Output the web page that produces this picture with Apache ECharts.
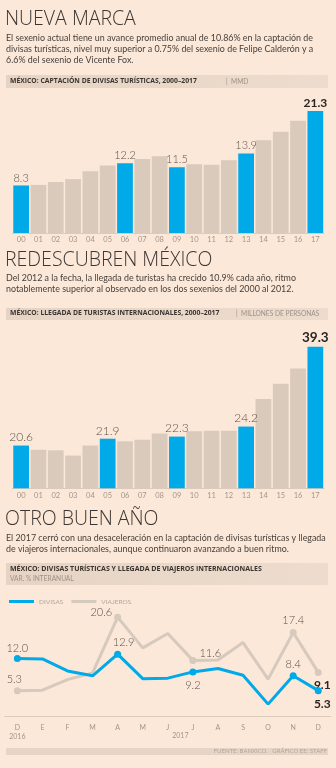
<!DOCTYPE html>
<html>
<head>
<meta charset="utf-8">
<script src="https://cdn.jsdelivr.net/npm/echarts@6/dist/echarts.min.js"></script>
<style>
  html, body { margin: 0; padding: 0; background: #fce8d8; }
  #chart { width: 336px; height: 768px; }
</style>
</head>
<body>
<div id="chart"></div>
<script>
// Annual series 2000-2017
const years = ['00','01','02','03','04','05','06','07','08','09','10','11','12','13','14','15','16','17'];
// Foreign currency from tourism, billions of USD
const divisasAnual = [8.3, 8.4, 8.9, 9.4, 10.8, 11.8, 12.2, 12.9, 13.4, 11.5, 12.0, 11.9, 12.7, 13.9, 16.2, 17.7, 19.6, 21.3];
// International tourist arrivals, millions of people
const turistasAnual = [20.6, 19.8, 19.7, 18.7, 20.6, 21.9, 21.4, 21.7, 22.9, 22.3, 23.3, 23.4, 23.4, 24.2, 29.4, 32.3, 35.2, 39.3];
// Years that close/open each six-year term (highlighted and labelled)
const marcados1 = [0, 6, 9, 13, 17];
const marcados2 = [0, 5, 9, 13, 17];

// Monthly year-on-year change, Dec 2016 - Dec 2017
const meses = ['D','E','F','M','A','M','J','J','A','S','O','N','D'];
const divisasVar  = [12.0, 11.9, 9.4, 8.4, 12.9, 7.8, 7.9, 9.2, 9.9, 8.5, 2.5, 8.4, 5.3];
const viajerosVar = [5.3, 5.4, 7.6, 9.0, 20.6, 14.2, 17.2, 11.6, 11.7, 15.3, 7.7, 17.4, 9.1];
const marcadosDivisas  = [0, 4, 7, 11, 12];
const marcadosViajeros = [0, 4, 7, 11, 12];

const AZUL = '#00a9e7';
const BEIGE = '#d9cabb';
const GRIS_LINEA = '#d6c9bd';
const TEXTO = '#3b3633';
const VALOR = '#5b524c';
const EJE = '#a39588';
const FONT = 'Lato, "Open Sans", sans-serif';
const FONT_TITULO = '"Open Sans", Lato, sans-serif';

function barData(values, marked, sizeNormal, sizeLast) {
  const last = values.length - 1;
  return values.map((v, i) => {
    const hi = marked.includes(i);
    const item = { value: v, itemStyle: { color: hi ? AZUL : BEIGE } };
    if (hi) {
      item.label = {
        show: true, position: 'top', distance: 2,
        fontFamily: FONT,
        fontSize: i === last ? sizeLast : sizeNormal,
        fontWeight: i === last ? 'bold' : 300,
        color: i === last ? '#2a2624' : VALOR
      };
    }
    return item;
  });
}

// Label placement for the labelled points of the monthly chart
const etiquetasDivisas = {
  0:  { position: 'top', distance: 1 },
  4:  { position: 'top', distance: 3, offset: [6, 0] },
  7:  { position: 'bottom', distance: 5 },
  11: { position: 'top', distance: 2 },
  12: { position: 'bottom', distance: 4, offset: [4, 0], bold: true }
};
const etiquetasViajeros = {
  0:  { position: 'top', distance: 2, offset: [-3, 0] },
  4:  { position: 'left', distance: 2, offset: [0, -5] },
  7:  { position: 'right', distance: 3, offset: [0, -7] },
  11: { position: 'top', distance: 3 },
  12: { position: 'bottom', distance: 3, offset: [4, 0], bold: true }
};

function lineData(values, marked, labels, color) {
  return values.map((v, i) => {
    const item = { value: v };
    if (marked.includes(i)) {
      item.symbol = 'circle';
      item.symbolSize = 7;
      item.itemStyle = { color: color };
      const l = labels[i];
      item.label = {
        show: true, position: l.position, distance: l.distance,
        offset: l.offset || [0, 0],
        formatter: (p) => p.value.toFixed(1),
        fontFamily: FONT, fontSize: l.bold ? 12 : 11,
        fontWeight: l.bold ? 'bold' : 300,
        color: l.bold ? '#2a2624' : VALOR
      };
    } else {
      item.symbol = 'none';
    }
    return item;
  });
}

function catAxis(gridIndex, data, margin) {
  return {
    type: 'category', gridIndex, data,
    axisLine: { lineStyle: { color: '#dccbbb', width: 1 } },
    axisTick: { show: false },
    axisLabel: { color: EJE, fontSize: 7.5, fontFamily: FONT, margin }
  };
}

function header(y, h, lines) {
  const els = [{
    type: 'rect', left: 6, top: y,
    shape: { width: 322, height: h },
    style: {
      fill: new echarts.graphic.LinearGradient(0, 0, 1, 0, [
        { offset: 0, color: '#e6d3c3' }, { offset: 1, color: '#eddccd' }
      ])
    }
  }];
  return els.concat(lines);
}

function txt(x, y, text, size, color, weight, font, extra) {
  return Object.assign({
    type: 'text', left: x, top: y,
    style: { text, fontSize: size, fill: color, fontWeight: weight || 'normal', fontFamily: font || FONT }
  }, extra || {});
}

function titulo(y, text) {
  return [txt(5, y, text, 19.5, TEXTO, 300, FONT_TITULO)];
}

function parrafo(y, lines) {
  return lines.map((l, i) => txt(6, y + i * 11, l, 8.9, '#46403c', 'normal'));
}

function banda(x, y, text, size) {
  return txt(x, y, text, size || 6.8, '#3a3430', 'bold', FONT_TITULO);
}

function unidad(x, y, text) {
  return txt(x, y, text, 6.6, '#9d9087', 'normal');
}

const chart = echarts.init(document.getElementById('chart'), null, { renderer: 'canvas' });

const graphic = [].concat(
  titulo(9.5, 'NUEVA MARCA'),
  parrafo(34, [
    'El sexenio actual tiene un avance promedio anual de 10.86% en la captación de',
    'divisas turísticas, nivel muy superior a 0.75% del sexenio de Felipe Calderón y a',
    '6.6% del sexenio de Vicente Fox.'
  ]),
  header(75, 13, [
    banda(10, 77.5, 'MÉXICO: CAPTACIÓN DE DIVISAS TURÍSTICAS, 2000–2017'),
    unidad(226, 78, '|  MMD')
  ]),
  titulo(250, 'REDESCUBREN MÉXICO'),
  parrafo(274, [
    'Del 2012 a la fecha, la llegada de turistas ha crecido 10.9% cada año, ritmo',
    'notablemente superior al observado en los dos sexenios del 2000 al 2012.'
  ]),
  header(308, 12, [
    banda(10, 310, 'MÉXICO: LLEGADA DE TURISTAS INTERNACIONALES, 2000–2017'),
    unidad(236, 310.5, '|  MILLONES DE PERSONAS')
  ]),
  titulo(509, 'OTRO BUEN AÑO'),
  parrafo(534, [
    'El 2017 cerró con una desaceleración en la captación de divisas turísticas y llegada',
    'de viajeros internacionales, aunque continuaron avanzando a buen ritmo.'
  ]),
  header(563, 22, [
    banda(10, 565.5, 'MÉXICO: DIVISAS TURÍSTICAS Y LLEGADA DE VIAJEROS INTERNACIONALES', 7),
    unidad(10, 575.5, 'VAR. % INTERANUAL')
  ]),
  [{
    type: 'rect', left: 6, top: 748,
    shape: { width: 322, height: 7 },
    style: { fill: '#e6d5c6' }
  },
  txt(0, 748.5, 'FUENTE: BANXICO.   GRÁFICO EE: STAFF', 6, '#b3a59a', 'normal', FONT, { right: 9, left: null })]
);

chart.setOption({
  backgroundColor: '#fce8d8',
  animation: false,
  textStyle: { fontFamily: FONT },
  legend: {
    left: 4, top: 593,
    icon: 'rect', itemWidth: 25, itemHeight: 3, itemGap: 8,
    textStyle: { color: '#b2a59b', fontSize: 6.5, fontFamily: FONT },
    data: ['DIVISAS', 'VIAJEROS']
  },
  grid: [
    { left: 12.5, right: 12, top: 107, height: 126 },
    { left: 12.5, right: 12, top: 337.9, height: 150.4 },
    { left: 4.8, right: 5.2, top: 610.4, height: 109.1 }
  ],
  xAxis: [
    catAxis(0, years, 3),
    catAxis(1, years, 3.5),
    Object.assign(catAxis(2, meses, 4), {
      axisLabel: {
        color: EJE, fontSize: 7, fontFamily: FONT, margin: 4, lineHeight: 9,
        formatter: (v, i) => i === 0 ? v + '\n2016' : v
      }
    })
  ],
  yAxis: [
    { type: 'value', gridIndex: 0, min: 0, max: 22, show: false },
    { type: 'value', gridIndex: 1, min: 12.5, max: 41, show: false },
    { type: 'value', gridIndex: 2, min: -0.7, max: 22, show: false }
  ],
  series: [
    {
      type: 'bar', xAxisIndex: 0, yAxisIndex: 0,
      barCategoryGap: '9%',
      data: barData(divisasAnual, marcados1, 11, 12)
    },
    {
      type: 'bar', xAxisIndex: 1, yAxisIndex: 1,
      barCategoryGap: '9%',
      data: barData(turistasAnual, marcados2, 12, 13.5)
    },
    {
      name: 'VIAJEROS', type: 'line', xAxisIndex: 2, yAxisIndex: 2,
      color: GRIS_LINEA,
      lineStyle: { color: GRIS_LINEA, width: 3 },
      itemStyle: { color: GRIS_LINEA },
      z: 2,
      data: lineData(viajerosVar, marcadosViajeros, etiquetasViajeros, GRIS_LINEA)
    },
    {
      name: 'DIVISAS', type: 'line', xAxisIndex: 2, yAxisIndex: 2,
      color: AZUL,
      lineStyle: { color: AZUL, width: 3 },
      itemStyle: { color: AZUL },
      z: 3,
      data: lineData(divisasVar, marcadosDivisas, etiquetasDivisas, AZUL)
    }
  ],
  graphic: graphic
});

// Year label for 2017, centred over the middle of the year
const xJun = chart.convertToPixel({ xAxisIndex: 2 }, 6);
const xJul = chart.convertToPixel({ xAxisIndex: 2 }, 7);
const yBase = chart.convertToPixel({ yAxisIndex: 2 }, -0.7);
chart.setOption({
  graphic: graphic.concat([{
    type: 'text', x: (xJun + xJul) / 2, y: yBase + 13,
    style: { text: '2017', fontSize: 7, fill: EJE, fontFamily: FONT, align: 'center', verticalAlign: 'top' }
  }])
});
</script>
</body>
</html>
